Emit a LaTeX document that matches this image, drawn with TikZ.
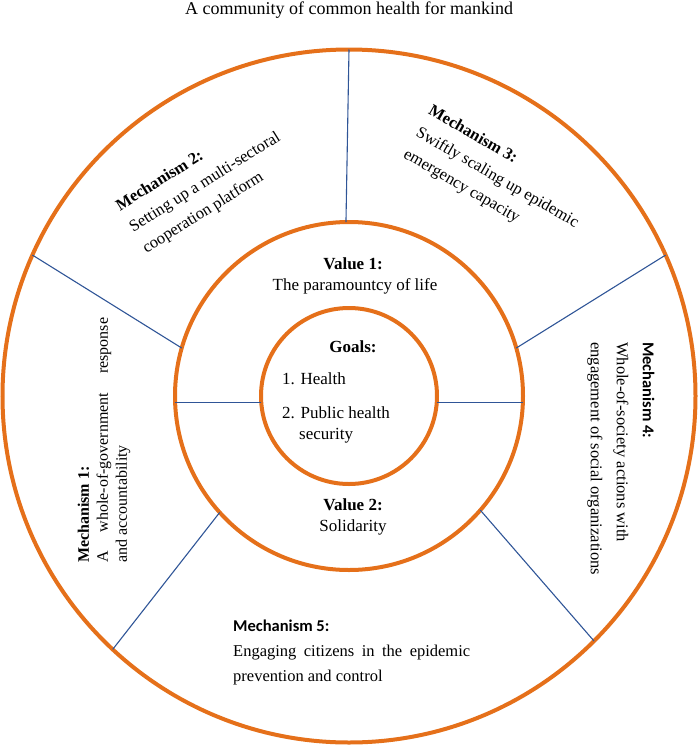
\documentclass[tikz,border=0pt]{standalone}
\usepackage{fontspec}
\setmainfont{Liberation Serif}
\newfontfamily\headsans{Carlito}
\usetikzlibrary{positioning}
\definecolor{ringOrange}{RGB}{229,112,26}
\definecolor{lineBlue}{RGB}{47,85,151}

\begin{document}
\begin{tikzpicture}[
    x=1pt, y=-1pt,
    every node/.style={inner sep=0pt, font=\fontsize{16.5}{25}\selectfont},
    ring/.style={circle, draw=ringOrange, line width=4pt, inner sep=0pt, outer sep=0pt},
    divider/.style={draw=lineBlue, line width=1.1pt},
    centertext/.style={anchor=base, font=\fontsize{17}{20}\selectfont},
    mech/.style={align=left}
]
\useasboundingbox (0,0) rectangle (699,745);

% Title
\node[anchor=base, font=\fontsize{18}{21}\selectfont] (title) at (349,14) {A community of common health for mankind};

% Rings
\node[ring, minimum size=693pt] (outer) at (349,396) {};
\node[ring, minimum size=348pt] (middle) at (349,396) {};
\node[ring, minimum size=176pt] (inner) at (349,396) {};

% Dividers between outer and middle ring
\draw[divider] (middle.91.5) -- (outer.90.8);
\draw[divider] (middle.164) -- (outer.156);
\draw[divider] (middle.222) -- (outer.227);
\draw[divider] (middle.-41) -- (outer.-45.5);
\draw[divider] (middle.16.5) -- (outer.24);

% Dividers between middle and inner ring
\draw[divider] (inner.184) -- (inner.184 -| middle.west);
\draw[divider] (inner.-4) -- (inner.-4 -| middle.east);

% Goals
\node[centertext, font=\fontsize{17}{20}\selectfont\bfseries] (goals) at (353,352) {Goals:};
\node[anchor=base west, font=\fontsize{17}{20}\selectfont] (goalOne) at (282,384) {1. Health};
\node[anchor=base west, font=\fontsize{17}{20}\selectfont] (goalTwo) at (282,418) {2. Public health};
\node[anchor=base west, font=\fontsize{17}{20}\selectfont] (goalTwoCont) at (299,439) {security};

% Values
\node[centertext, font=\fontsize{17}{20}\selectfont\bfseries] (valueOne) at (353,269) {Value 1:};
\node[centertext] (valueOneText) at (355,290) {The paramountcy of life};
\node[centertext, font=\fontsize{17}{20}\selectfont\bfseries] (valueTwo) at (353,510) {Value 2:};
\node[centertext] (valueTwoText) at (353,531) {Solidarity};

% Mechanisms
\node[mech, rotate=90, anchor=west, text width=245pt, align=justify, font=\fontsize{16}{19}\selectfont] (mechOne) at (104,563)
    {\textbf{Mechanism 1:}\\ A whole-of-government response\linebreak and accountability};
\node[mech, rotate=32, anchor=west] (mechTwo) at (131,229)
    {\textbf{Mechanism 2:}\\ Setting up a multi-sectoral\\ cooperation platform};
\node[mech, rotate=-30, anchor=west] (mechThree) at (417,132)
    {\textbf{Mechanism 3:}\\ Swiftly scaling up epidemic\\ emergency capacity};
\node[mech, rotate=-90, anchor=west, font=\fontsize{16.5}{26}\selectfont] (mechFour) at (621,342)
    {{\headsans\bfseries Mechanism 4:}\\ Whole-of-society actions with\\ engagement of social organizations};
\node[mech, anchor=west, text width=237pt, align=justify] (mechFive) at (233,652)
    {{\headsans\bfseries Mechanism 5:}\\ Engaging citizens in the epidemic\linebreak prevention and control};

\end{tikzpicture}
\end{document}
